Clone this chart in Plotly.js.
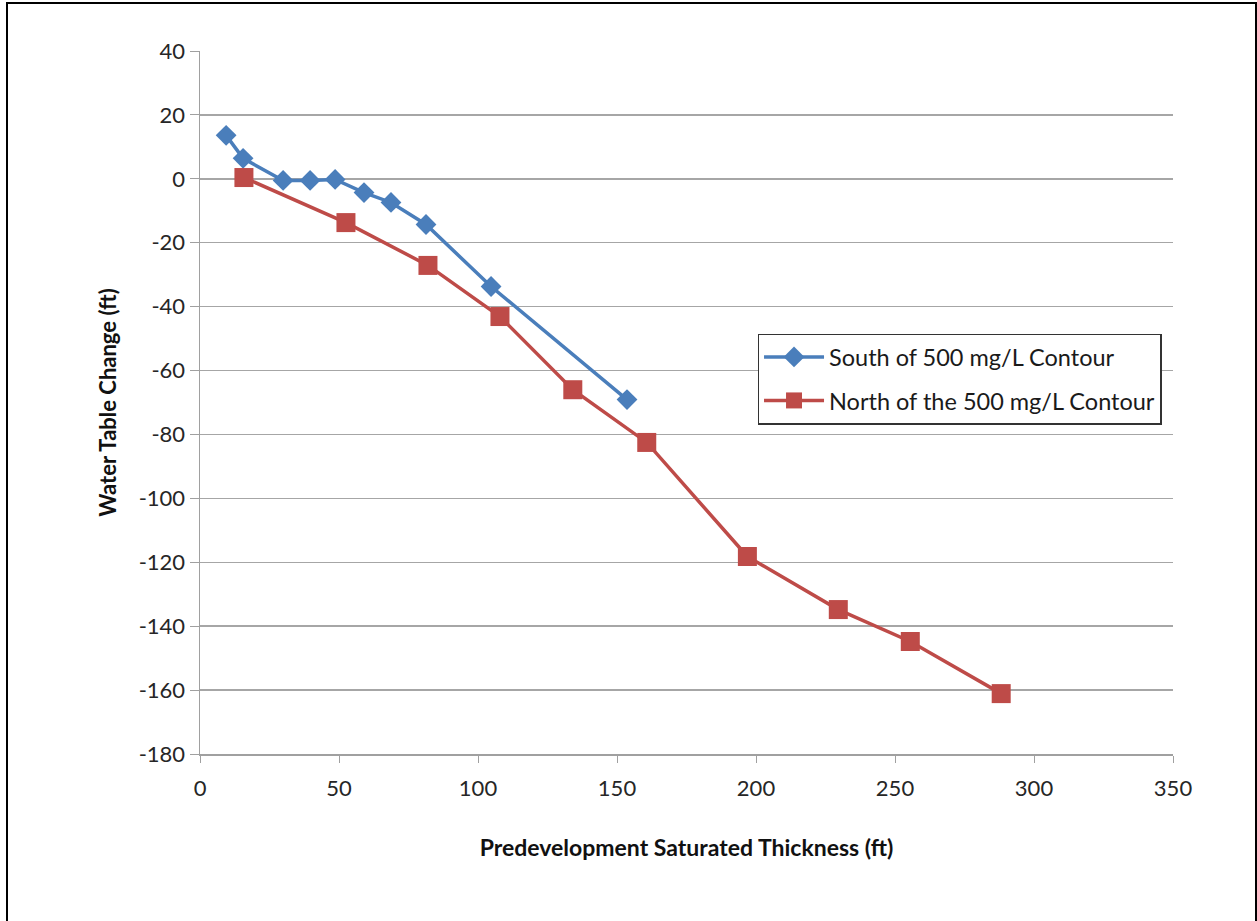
<!DOCTYPE html>
<html>
<head>
<meta charset="utf-8">
<script src="https://cdn.plot.ly/plotly-3.0.1.min.js"></script>
<style>
  html, body { margin: 0; padding: 0; background: #fff; }
  #wrap { position: relative; width: 1257px; height: 921px; }
  #chart { width: 1257px; height: 921px; }
  #frame { position: absolute; left: 6px; top: 2px; width: 1247px; height: 940px;
           border: 2px solid #000; pointer-events: none; }
</style>
</head>
<body>
<div id="wrap">
  <div id="chart"></div>
  <div id="frame"></div>
</div>
<script>
const southX = [9.4, 15.5, 29.9, 39.6, 48.6, 59.0, 68.7, 81.3, 104.7, 153.6];
const southY = [13.6, 6.4, -0.5, -0.5, -0.2, -4.3, -7.4, -14.3, -33.7, -69.1];
const northX = [15.8, 52.5, 82.0, 107.9, 134.1, 160.7, 196.9, 229.6, 255.5, 288.2];
const northY = [0.4, -13.7, -27.1, -43.1, -66.0, -82.5, -118.2, -134.8, -144.8, -161.1];
const seriesNames = ["South of 500 mg/L Contour", "North of the 500 mg/L Contour"];
const yTickVals = [40, 20, 0, -20, -40, -60, -80, -100, -120, -140, -160, -180];
const yTickText = ["40", "20", "0", "-20", "-40", "-60", "-80", "-100", "-120", "-140", "-160", "-180"];

const font = "Lato, 'Open Sans', sans-serif";

const traces = [
  { x: southX, y: southY, name: seriesNames[0], legendgroup: "s", type: "scatter", mode: "lines+markers",
    line: { color: "#4a7ebb", width: 3.5 },
    marker: { symbol: "diamond", size: 16, color: "#4a7ebb" } },
  { x: northX, y: northY, name: seriesNames[1], legendgroup: "n", type: "scatter", mode: "lines+markers",
    line: { color: "#be4b48", width: 3.5 },
    marker: { symbol: "square", size: 19, color: "#be4b48" } }
];

const layout = {
  width: 1257, height: 921,
  margin: { l: 200, r: 84, t: 51, b: 167 },
  paper_bgcolor: "#fff", plot_bgcolor: "#fff",
  font: { family: font, size: 22, color: "#262626" },
  showlegend: true,
  legend: {
    x: 0.573, y: 0.598, xanchor: "left", yanchor: "top",
    bgcolor: "#fff", bordercolor: "#333", borderwidth: 1.5,
    font: { family: font, size: 23.5, color: "#1a1a1a" },
    tracegroupgap: 10, itemwidth: 60
  },
  xaxis: {
    range: [0, 350], dtick: 50, tick0: 0,
    showgrid: false, zeroline: false,
    showline: true, linecolor: "#a0a0a0", linewidth: 1.5,
    ticks: "outside", ticklen: 7, tickcolor: "#a0a0a0",
    ticklabelstandoff: 7,
    tickfont: { family: font, size: 22, color: "#262626" },
    title: { text: "<b>Predevelopment Saturated Thickness (ft)</b>",
             font: { family: font, size: 23, color: "#111" }, standoff: 40 }
  },
  yaxis: {
    range: [-180, 40], tickmode: "array", tickvals: yTickVals, ticktext: yTickText,
    showgrid: true, gridcolor: "#a6a6a6", gridwidth: 1.5,
    zeroline: false,
    showline: true, linecolor: "#a0a0a0", linewidth: 1.5,
    ticks: "outside", ticklen: 9, tickcolor: "#a0a0a0",
    tickfont: { family: font, size: 22, color: "#262626" },
    title: { text: "<b>Water Table Change (ft)</b>",
             font: { family: font, size: 22, color: "#111" }, standoff: 16 }
  }
};

Plotly.newPlot("chart", traces, layout, { staticPlot: true, displayModeBar: false });
</script>
</body>
</html>
